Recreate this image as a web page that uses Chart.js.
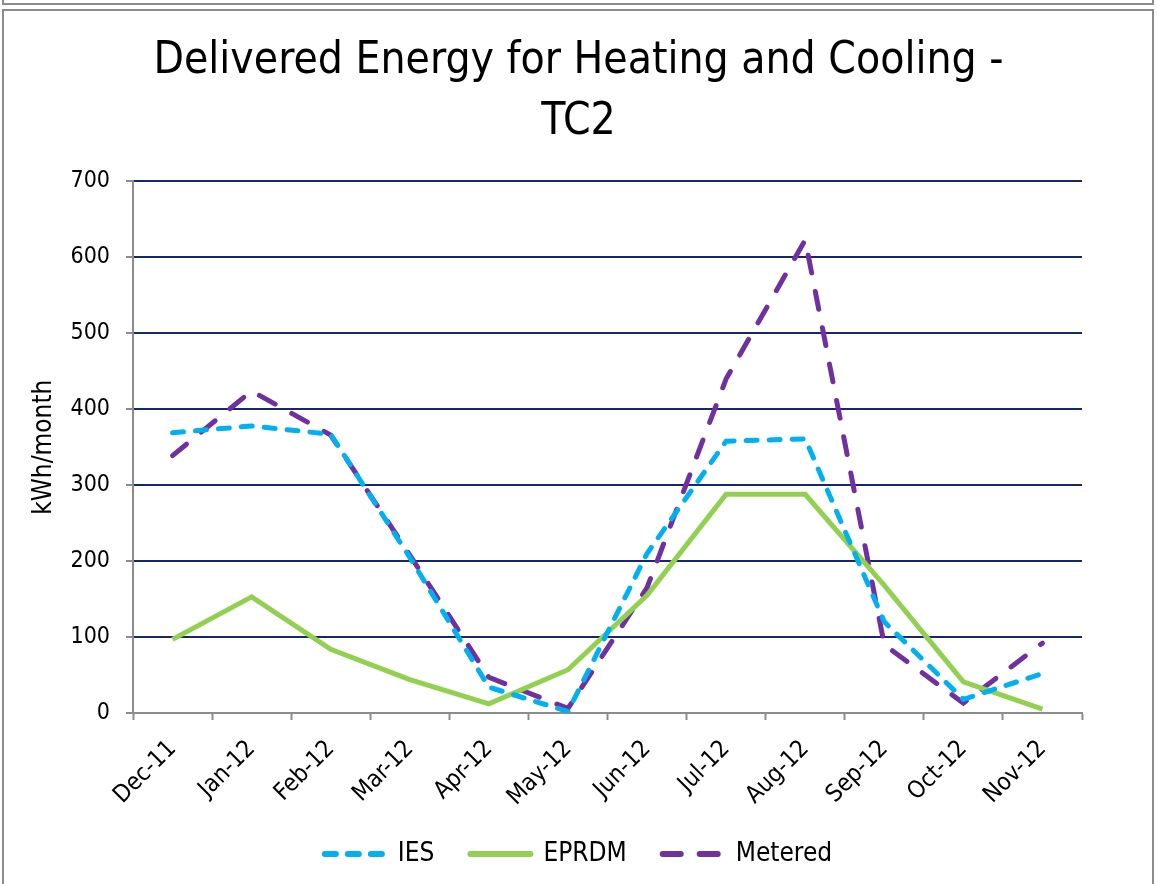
<!DOCTYPE html>
<html>
<head>
<meta charset="utf-8">
<title>Delivered Energy for Heating and Cooling - TC2</title>
<script src="https://cdn.jsdelivr.net/npm/chart.js@4.4.0/dist/chart.umd.min.js"></script>
<style>
  html, body { margin: 0; padding: 0; background: #ffffff; overflow: hidden; }
  #wrap { position: absolute; left: 0; top: 0; width: 1157px; height: 884px; }
  .frame { position: absolute; box-sizing: border-box; border: 2px solid #8c8c8c; pointer-events: none; }
</style>
</head>
<body>
<div id="wrap"><canvas id="energy-chart"></canvas></div>
<div class="frame" style="left:2px; top:-16px; width:1152px; height:21px;"></div>
<div class="frame" style="left:2px; top:9px; width:1152px; height:900px;"></div>
<script>
var months = ["Dec-11", "Jan-12", "Feb-12", "Mar-12", "Apr-12", "May-12",
              "Jun-12", "Jul-12", "Aug-12", "Sep-12", "Oct-12", "Nov-12"];
var iesData = [369, 378, 367, 205, 34, 2, 210, 358, 361, 120, 18, 52];      // IES model
var eprdmData = [97, 153, 84, 44, 12, 57, 155, 288, 288, 168, 41, 5];       // EPRDM model
var meteredData = [339, 424, 366, 208, 47, 6, 165, 440, 623, 90, 13, 92];   // metered
var yMax = 700;
var yStep = 100;

var chartTitle = ["Delivered Energy for Heating and Cooling -", "TC2"];
var yTitle = "kWh/month";

var narrow = "'Liberation Sans Narrow', 'DejaVu Sans Condensed', 'Liberation Sans', sans-serif";
var axisGrey = "#8c8c8c";
var gridNavy = "#14286b";

// legend samples: take dash and cap from the dataset line, not from the point style
function legendLabels(chart) {
    var items = Chart.defaults.plugins.legend.labels.generateLabels(chart);
    items.forEach(function (item) {
        var ds = chart.data.datasets[item.datasetIndex];
        item.lineDash = ds.borderDash || [];
        item.lineCap = "round";
        item.lineWidth = 6;
        item.strokeStyle = ds.borderColor;
    });
    return items;
}

var config = {
    type: "line",
    data: {
        labels: months,
        datasets: [{
            label: "IES",
            data: iesData,
            borderColor: "#00b0f0",
            backgroundColor: "#00b0f0",
            borderWidth: 5,
            borderDash: [11, 12],
            borderCapStyle: "round",
            pointRadius: 0,
            tension: 0
        }, {
            label: "EPRDM",
            data: eprdmData,
            borderColor: "#92d050",
            backgroundColor: "#92d050",
            borderWidth: 5,
            pointRadius: 0,
            tension: 0
        }, {
            label: "Metered",
            data: meteredData,
            borderColor: "#7030a0",
            backgroundColor: "#7030a0",
            borderWidth: 5,
            borderDash: [18, 19],
            borderCapStyle: "round",
            pointRadius: 0,
            tension: 0
        }]
    },
    options: {
        responsive: true,
        maintainAspectRatio: false,
        animation: false,
        layout: { padding: { left: 3, right: 3, top: 0, bottom: 7 } },
        plugins: {
            title: {
                display: true,
                text: chartTitle,
                color: "#000000",
                font: { family: narrow, size: 44, weight: "normal", lineHeight: 1.38 },
                padding: { top: 31, bottom: 29 }
            },
            legend: {
                position: "bottom",
                labels: {
                    usePointStyle: true,
                    pointStyle: "line",
                    pointStyleWidth: 60,
                    color: "#000000",
                    font: { family: narrow, size: 26 },
                    padding: 36,
                    generateLabels: legendLabels
                }
            },
            tooltip: { enabled: false }
        },
        scales: {
            x: {
                offset: true,
                grid: {
                    display: true,
                    offset: true,
                    drawOnChartArea: false,
                    drawTicks: true,
                    tickLength: 7,
                    tickColor: axisGrey,
                    tickWidth: 2
                },
                border: { display: true, color: axisGrey, width: 2 },
                ticks: {
                    color: "#000000",
                    font: { family: narrow, size: 24 },
                    minRotation: 45,
                    maxRotation: 45,
                    padding: 15
                },
                afterFit: function (scale) { scale.height = 92; }
            },
            y: {
                min: 0,
                max: yMax,
                ticks: {
                    stepSize: yStep,
                    color: "#000000",
                    font: { family: narrow, size: 23 },
                    padding: 16
                },
                grid: {
                    color: gridNavy,
                    lineWidth: 2,
                    tickLength: 7,
                    tickColor: axisGrey,
                    tickWidth: 2
                },
                border: { display: true, color: axisGrey, width: 2 },
                title: {
                    display: true,
                    text: yTitle,
                    color: "#000000",
                    font: { family: narrow, size: 26 },
                    padding: { top: 26, bottom: 0 }
                },
                afterFit: function (scale) { scale.width = 130; }
            },
            // empty axis on the right keeps the plot narrower than the title row
            yRight: {
                position: "right",
                display: true,
                grid: { display: false },
                border: { display: false },
                ticks: { display: false },
                afterFit: function (scale) { scale.width = 72; }
            }
        }
    }
};

var energyChart = new Chart(document.getElementById("energy-chart"), config);
</script>
</body>
</html>
